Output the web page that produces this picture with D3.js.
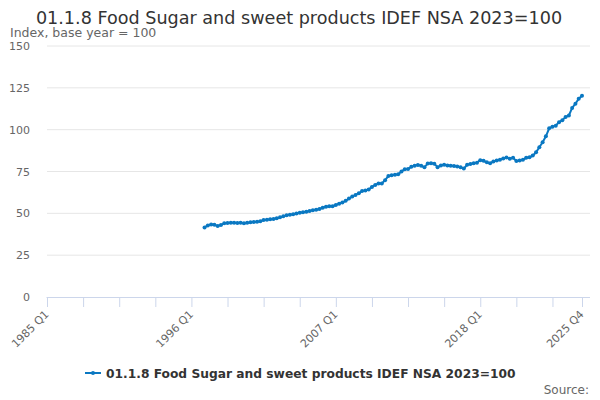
<!DOCTYPE html>
<html>
<head>
<meta charset="utf-8">
<script src="https://cdn.jsdelivr.net/npm/d3@7"></script>
<style>
  body { margin: 0; background: #fff; }
  svg { font-family: "DejaVu Sans", sans-serif; }
</style>
</head>
<body>
<svg id="chart" width="600" height="400"></svg>
<script>
// quarters 1985 Q1 .. 2025 Q4
const years = d3.range(1985, 2026);
const quarters = years.flatMap(y => [1, 2, 3, 4].map(q => y + " Q" + q));

// series starts in 1997 Q1
const firstQuarter = "1997 Q1";
const values = [
    41.6, 42.8, 43.3, 43.2, 42.4, 43.0, 44.0, 44.2, 44.3, 44.3,
    44.2, 44.3, 44.0, 44.3, 44.6, 44.8, 45.0, 45.3, 46.0, 46.2,
    46.5, 46.6, 47.0, 47.6, 48.2, 48.8, 49.2, 49.4, 49.9, 50.4,
    50.6, 51.0, 51.4, 51.8, 52.2, 52.6, 53.3, 54.0, 54.2, 54.3,
    55.0, 55.8, 56.5, 57.5, 58.8, 60.0, 61.0, 62.0, 63.3, 63.6,
    64.2, 65.8, 67.0, 67.8, 67.8, 69.8, 72.3, 72.8, 73.0, 73.3,
    75.0, 76.3, 76.5, 77.8, 78.5, 78.9, 78.5, 77.5, 79.8, 79.9,
    79.6, 77.6, 78.6, 79.0, 78.6, 78.5, 78.3, 78.0, 77.6, 76.8,
    79.0, 79.5, 79.9, 80.3, 81.7, 81.4, 80.5, 79.9, 81.0, 81.5,
    82.0, 82.8, 83.3, 82.6, 83.2, 81.3, 81.5, 82.0, 83.2, 83.5,
    84.5, 86.5, 89.5, 92.5, 96.0, 100.8, 101.8, 102.4, 104.5, 105.6,
    107.5, 108.5, 113.0, 115.5, 118.5, 120.3
];

const labelQuarters = ["1985 Q1", "1996 Q1", "2007 Q1", "2018 Q1", "2025 Q4"];
const yTicks = [0, 25, 50, 75, 100, 125, 150];

const title = "01.1.8 Food Sugar and sweet products IDEF NSA 2023=100";
const seriesName = "01.1.8 Food Sugar and sweet products IDEF NSA 2023=100";

const startIdx = quarters.indexOf(firstQuarter);
const data = values.map((v, i) => ({ q: quarters[startIdx + i], value: v }));

const svg = d3.select("#chart");
const lineColor = "#0a78c2";

const x = d3.scalePoint()
    .domain(quarters)
    .range([47, 582]);

const y = d3.scaleLinear()
    .domain([0, 150])
    .range([297, 46]);

// title and subtitle
svg.append("text")
    .attr("x", 299)
    .attr("y", 24)
    .attr("text-anchor", "middle")
    .attr("font-size", 17.6)
    .attr("fill", "#333")
    .text(title);

svg.append("text")
    .attr("x", 10)
    .attr("y", 37)
    .attr("font-size", 12.5)
    .attr("fill", "#666")
    .text("Index, base year = 100");

// grid lines
svg.append("g")
    .selectAll("line")
    .data(yTicks.filter(d => d > 0))
    .enter().append("line")
    .attr("x1", 47)
    .attr("x2", 590)
    .attr("y1", d => y(d))
    .attr("y2", d => y(d))
    .attr("stroke", "#e6e6e6")
    .attr("stroke-width", 1);

// y axis labels
const yAxis = d3.axisLeft(y).tickValues(yTicks).tickSize(0).tickPadding(0);
const yg = svg.append("g")
    .attr("transform", "translate(30,0)")
    .call(yAxis);
yg.select(".domain").remove();
yg.selectAll("text")
    .attr("font-family", "DejaVu Sans, sans-serif")
    .attr("font-size", 11)
    .attr("fill", "#666");

// x axis: tick every 11 quarters, labels on some
const tickQuarters = quarters.filter((d, i) => i % 11 === 0 || i === quarters.length - 1);
const xAxis = d3.axisBottom(x)
    .tickValues(tickQuarters)
    .tickSize(10)
    .tickFormat(d => labelQuarters.includes(d) ? d : "");
const xg = svg.append("g")
    .attr("transform", "translate(0,297)")
    .call(xAxis);
xg.select(".domain")
    .attr("d", "M46.5,0.5H590")
    .attr("stroke", "#ccd6eb");
xg.selectAll(".tick line").attr("stroke", "#ccd6eb");
xg.selectAll("text")
    .attr("font-family", "DejaVu Sans, sans-serif")
    .attr("font-size", 11)
    .attr("fill", "#666")
    .attr("text-anchor", "end")
    .attr("y", 0)
    .attr("dy", 0)
    .attr("transform", "translate(2,18) rotate(-45)");

// line
const line = d3.line()
    .x(d => x(d.q))
    .y(d => y(d.value));

svg.append("path")
    .datum(data)
    .attr("d", line)
    .attr("fill", "none")
    .attr("stroke", lineColor)
    .attr("stroke-width", 2);

svg.append("g")
    .selectAll("circle")
    .data(data)
    .enter().append("circle")
    .attr("cx", d => x(d.q))
    .attr("cy", d => y(d.value))
    .attr("r", 2)
    .attr("fill", lineColor);

// legend
const legend = svg.append("g").attr("transform", "translate(0,373)");
legend.append("line")
    .attr("x1", 85).attr("x2", 101)
    .attr("y1", 0).attr("y2", 0)
    .attr("stroke", lineColor)
    .attr("stroke-width", 2);
legend.append("circle")
    .attr("cx", 93).attr("cy", 0).attr("r", 2)
    .attr("fill", lineColor);
legend.append("text")
    .attr("x", 106)
    .attr("y", 5)
    .attr("font-size", 12.25)
    .attr("font-weight", "bold")
    .attr("fill", "#333")
    .text(seriesName);

// credits
svg.append("text")
    .attr("x", 589)
    .attr("y", 394)
    .attr("text-anchor", "end")
    .attr("font-size", 12)
    .attr("fill", "#666")
    .text("Source:");
</script>
</body>
</html>
